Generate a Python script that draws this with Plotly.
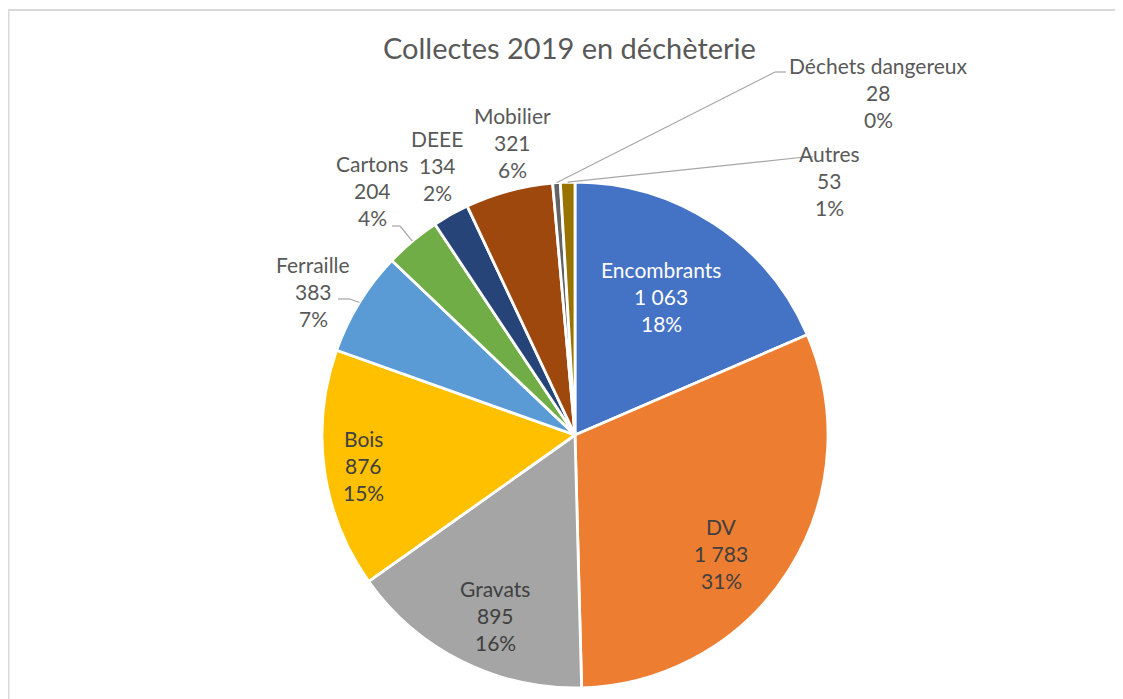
import math
import plotly.graph_objects as go

# données
categories = ['Encombrants', 'DV', 'Gravats', 'Bois', 'Ferraille', 'Cartons',
              'DEEE', 'Mobilier', 'Déchets dangereux', 'Autres']
tonnages = [1063, 1783, 895, 876, 383, 204, 134, 321, 28, 53]
tonnage_labels = ['1 063', '1 783', '895', '876', '383', '204', '134', '321', '28', '53']
pct_labels = ['18%', '31%', '16%', '15%', '7%', '4%', '2%', '6%', '0%', '1%']

colors = ['#4472C4', '#ED7D31', '#A5A5A5', '#FFC000', '#5B9BD5', '#70AD47',
          '#264478', '#9E480E', '#636363', '#997300']

W, H = 1123, 699
OFF = 8  # page body margin
CX, CY, R = 575, 435, 253

# label centres (screen pixels)
label_pos = {
    'Encombrants': (661, 296),
    'DV': (721, 553),
    'Gravats': (495, 615),
    'Bois': (363, 465),
    'Ferraille': (313, 291),
    'Cartons': (372, 190),
    'DEEE': (437, 165),
    'Mobilier': (512, 142),
    'Déchets dangereux': (878, 92),
    'Autres': (829, 180),
}
label_colors = {'Encombrants': 'white', 'DV': '#404040', 'Gravats': '#404040', 'Bois': '#404040'}
# leader lines: (text side point, elbow point)
leaders = {
    'Ferraille': ((338, 299), (350, 299)),
    'Cartons': ((392, 226), (400, 226)),
    'Déchets dangereux': ((786, 72), (775, 72)),
    'Autres': ((813, 157), (805, 157)),
}

fig = go.Figure()

fig.add_trace(go.Pie(
    labels=categories,
    values=tonnages,
    sort=False,
    direction='clockwise',
    rotation=0,
    marker=dict(colors=colors, line=dict(color='white', width=2.8)),
    textinfo='none',
    hoverinfo='label+value+percent',
    showlegend=False,
    domain=dict(x=[(CX - OFF - R) / W, (CX - OFF + R) / W],
                y=[(H - (CY - OFF) - R) / H, (H - (CY - OFF) + R) / H]),
))

# hidden pixel axes (screen coordinates) for labels and leader lines
fig.add_trace(go.Scatter(x=[OFF, W + OFF], y=[OFF, H + OFF], mode='markers',
                         marker=dict(opacity=0), hoverinfo='skip', showlegend=False))

total = sum(tonnages)
cum = 0
label_font = "Lato"
for cat, val, tl, pl in zip(categories, tonnages, tonnage_labels, pct_labels):
    mid = (cum + val / 2) / total * 2 * math.pi
    cum += val
    lx, ly = label_pos[cat]
    col = label_colors.get(cat, '#595959')
    for k, line in enumerate([cat, tl, pl]):
        fig.add_annotation(x=lx, y=ly + (k - 1) * 27, xref='x', yref='y', text=line,
                           showarrow=False, font=dict(family=label_font, size=21, color=col),
                           xanchor='center', yanchor='middle')
    if cat in leaders:
        p0, p1 = leaders[cat]
        ex, ey = CX + R * math.sin(mid), CY - R * math.cos(mid)
        for a, b in [(p0, p1), (p1, (ex, ey))]:
            fig.add_shape(type='line', xref='x', yref='y', x0=a[0], y0=a[1], x1=b[0], y1=b[1],
                          line=dict(color='#A6A6A6', width=1.2))

# titre
fig.add_annotation(x=569, y=47, xref='x', yref='y', text='Collectes 2019 en déchèterie',
                   showarrow=False, font=dict(family=label_font, size=29, color='#595959'),
                   xanchor='center', yanchor='middle')

# cadre du graphique
fig.add_shape(type='rect', xref='x', yref='y', x0=OFF + 0.5, y0=10, x1=W + 20, y1=H + 20,
              line=dict(color='#D9D9D9', width=2), layer='below')

fig.update_layout(
    width=W, height=H,
    margin=dict(l=0, r=0, t=0, b=0),
    paper_bgcolor='white',
    plot_bgcolor='rgba(0,0,0,0)',
    xaxis=dict(range=[OFF, W + OFF], visible=False, fixedrange=True),
    yaxis=dict(range=[H + OFF, OFF], visible=False, fixedrange=True),
)

fig.write_html("out.html")
